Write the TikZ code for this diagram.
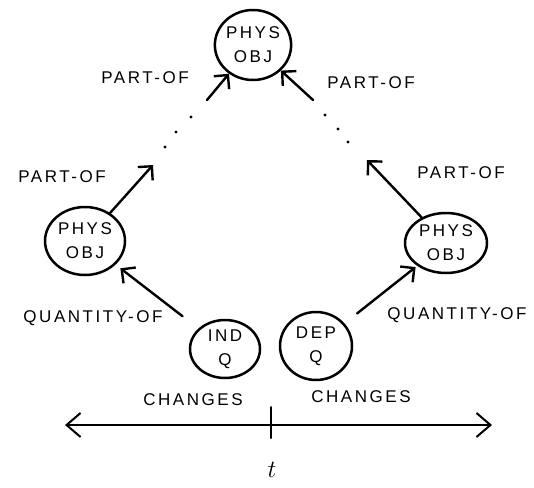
\documentclass[tikz,border=0pt]{standalone}
\usepackage{fontspec}
\setmainfont{Liberation Sans}[LetterSpace=15]
\usetikzlibrary{arrows.meta,shapes.geometric}

\newcommand{\handfont}{\fontsize{17}{24}\selectfont}

\begin{document}
\begin{tikzpicture}[
		x=1pt,
		y=-1pt,
		line cap=round,
		line join=round,
		>={Straight Barb[length=10pt,width=20pt]},
		objnode/.style={
			ellipse,
			draw,
			line width=2.5pt,
			inner sep=0pt,
			align=center,
			font=\handfont
		},
		relarrow/.style={->, line width=2.4pt},
		rellabel/.style={font=\handfont, inner sep=0pt}
		]
		
		\useasboundingbox (0,0) rectangle (534,487);
		
		% objects
		\node[objnode, minimum width=68, minimum height=70] (physTop) at (253,45) {PHYS\\OBJ};
		\node[objnode, minimum width=80, minimum height=68] (physL) at (85,241) {PHYS\\OBJ};
		\node[objnode, minimum width=82, minimum height=60] (physR) at (446,243) {PHYS\\OBJ};
		\node[objnode, minimum width=70, minimum height=58] (indQ) at (225,349) {IND\\Q};
		\node[objnode, minimum width=72, minimum height=68] (depQ) at (316,346) {DEP\\Q};
		
		% free ends of the part-of chains
		\coordinate (partLa) at (153,165);
		\coordinate (partLb) at (207,100);
		\coordinate (partRa) at (367,160);
		\coordinate (partRb) at (313,100);
		
		% part-of
		\draw[relarrow] (physL) -- (partLa);
		\draw[relarrow] (partLb) -- (physTop);
		\draw[relarrow] (physR) -- (partRa);
		\draw[relarrow] (partRb) -- (physTop);
		
		\foreach \p in {(191,117),(176,132),(165,147),(325,115),(338,129),(348,142)}
		\fill \p circle (1.6);
		
		\node[rellabel] (lblLa) at (145,78) {PART-OF};
		\node[rellabel] (lblRa) at (371,83) {PART-OF};
		\node[rellabel] (lblLb) at (62,177) {PART-OF};
		\node[rellabel] (lblRb) at (461,173) {PART-OF};
		
		% quantity-of
		\draw[relarrow, shorten <=20pt, shorten >=6pt] (indQ) -- (physL);
		\draw[relarrow, shorten <=16pt, shorten >=2pt] (depQ) -- (physR);
		
		\node[rellabel] (lblQl) at (93,318) {QUANTITY-OF};
		\node[rellabel] (lblQr) at (457,315) {QUANTITY-OF};
		
		\node[rellabel] (lblCl) at (193,400) {CHANGES};
		\node[rellabel] (lblCr) at (361,397) {CHANGES};
		
		% time axis
		\coordinate (tL) at (65,425);
		\coordinate (tR) at (492,425);
		\coordinate (tNow) at (271,425);
		\draw[<->, line width=2pt, >={Straight Barb[length=14pt,width=24pt]}] (tL) -- (tR);
		\draw[line width=2pt] ([yshift=18]tNow) -- ([yshift=-13]tNow);
		\node (tLabel) at (272,470) {\fontsize{36}{36}\selectfont$t$};
		
	\end{tikzpicture}
\end{document}
